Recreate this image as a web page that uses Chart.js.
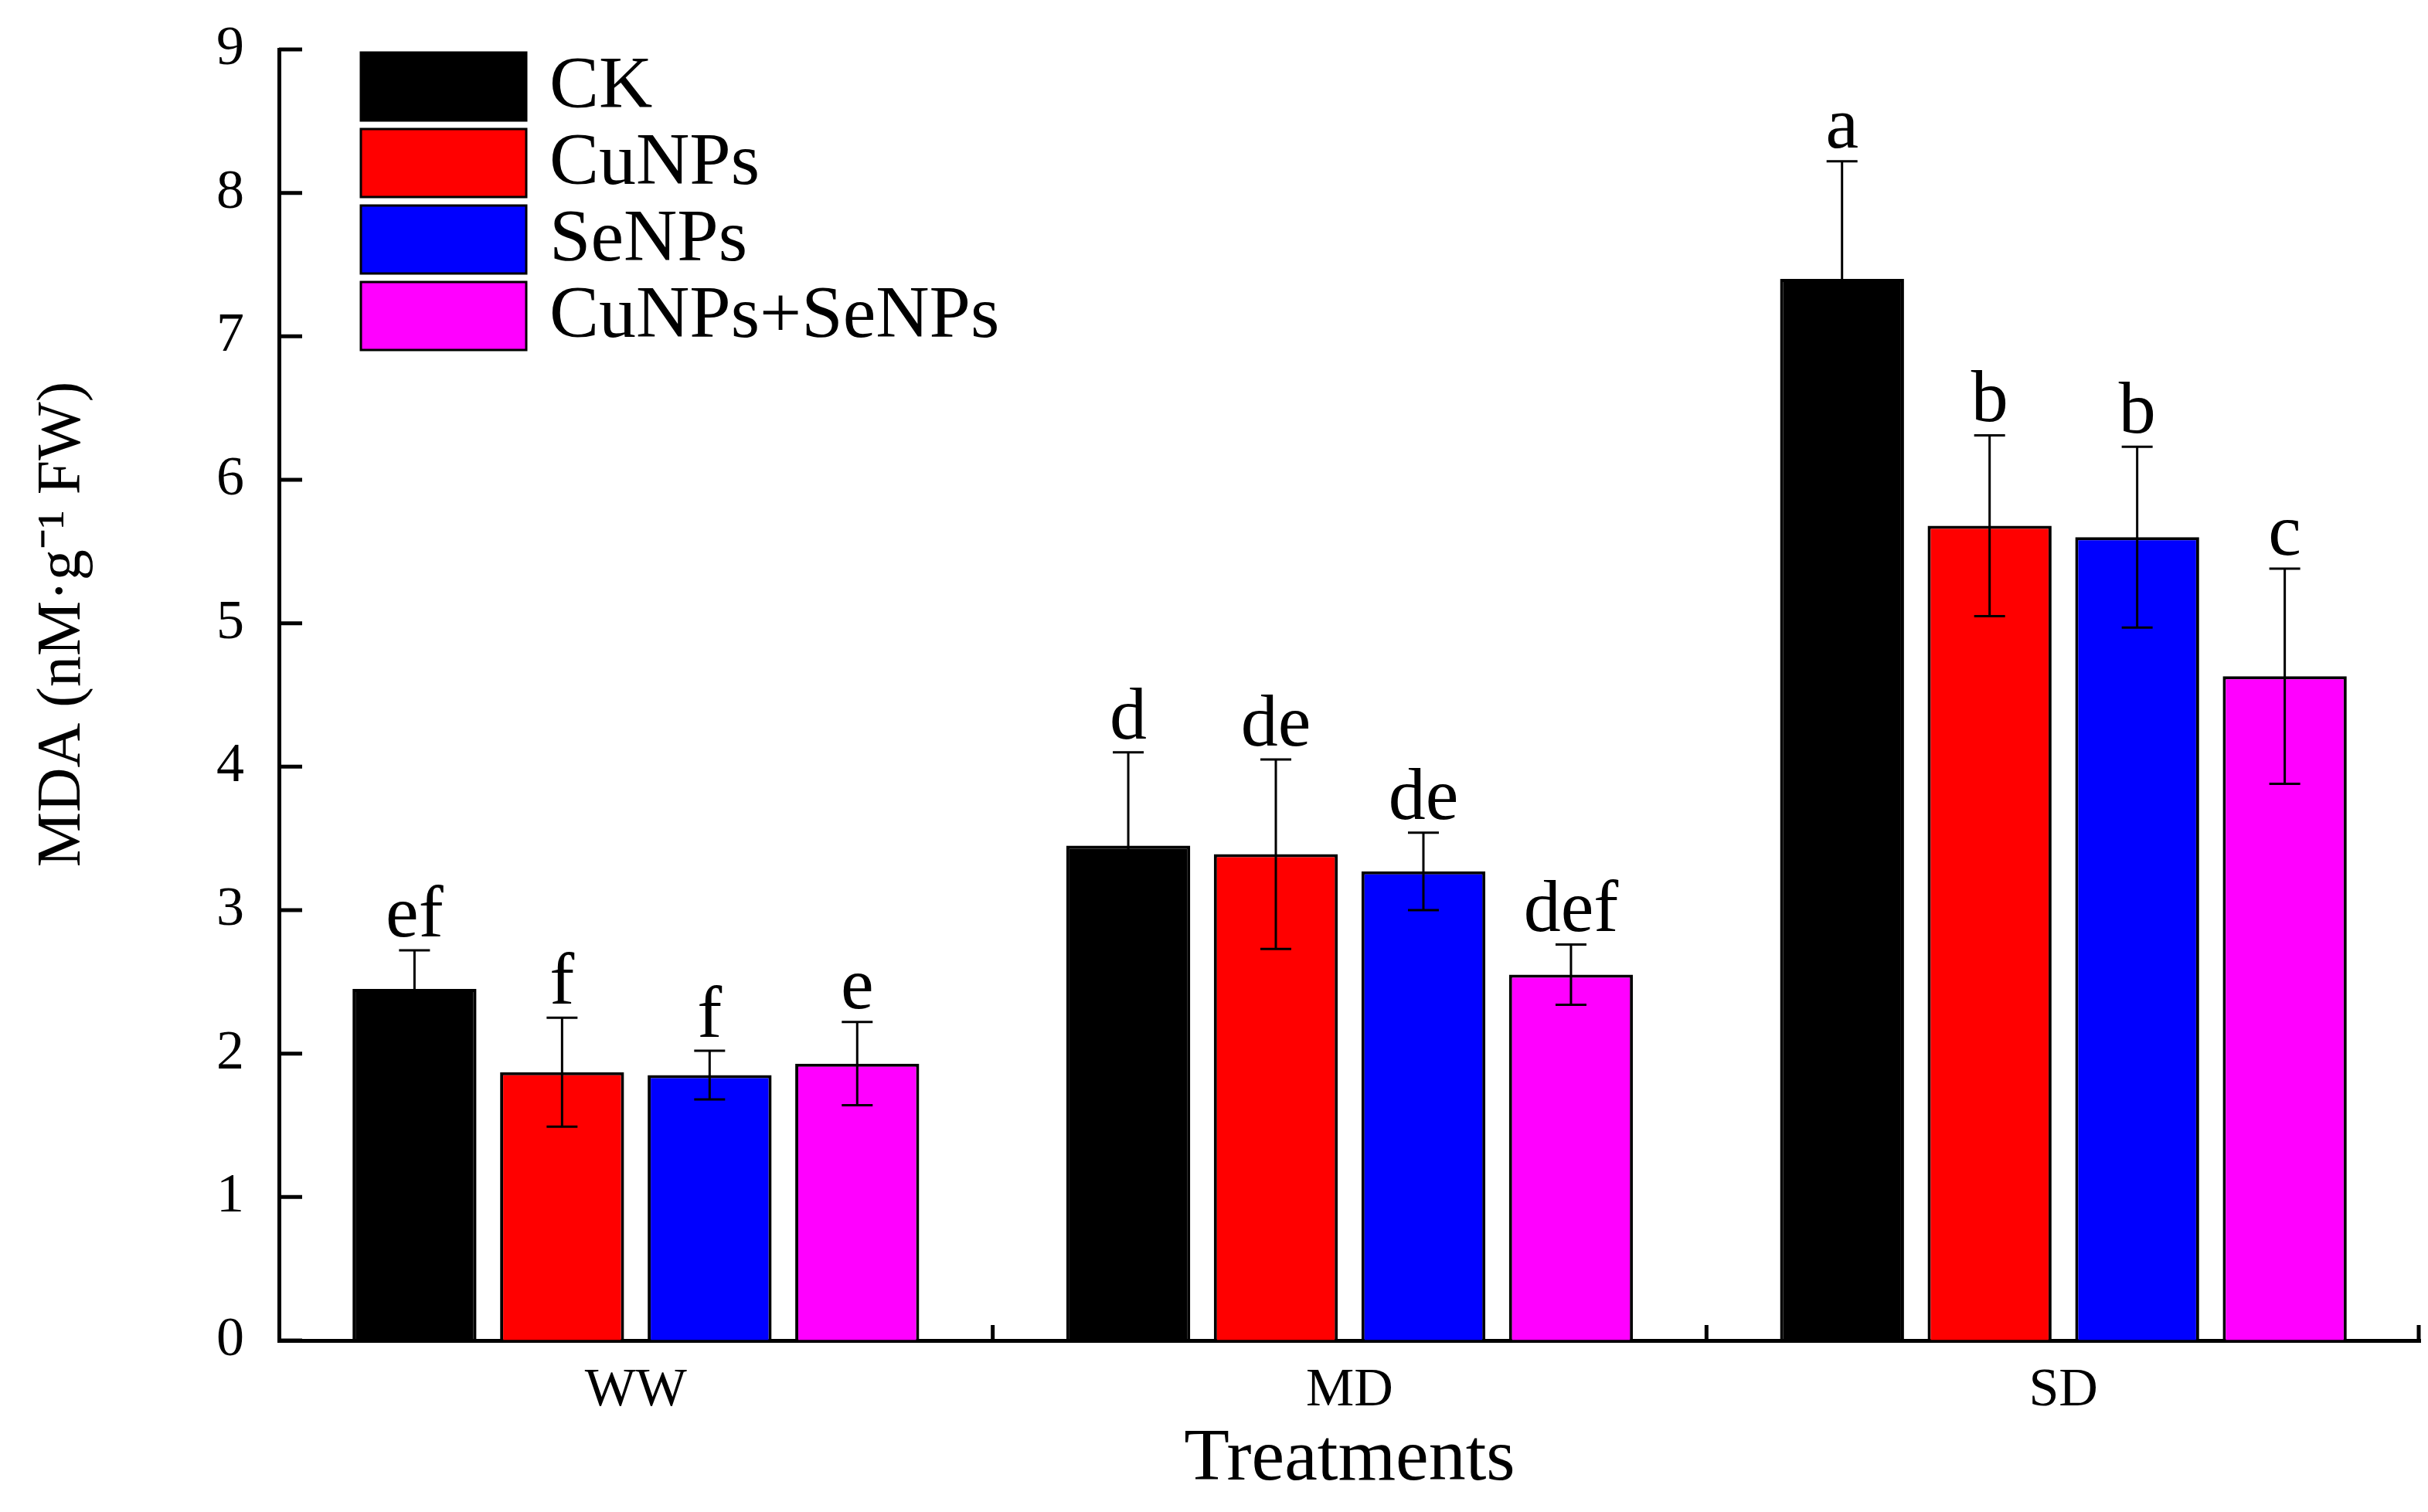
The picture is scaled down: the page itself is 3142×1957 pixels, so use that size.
<!DOCTYPE html>
<html>
<head>
<meta charset="utf-8">
<script src="https://cdn.jsdelivr.net/npm/chart.js@4/dist/chart.umd.min.js"></script>
<style>
  html, body { margin: 0; padding: 0; background: #fff; }
  #wrap { width: 3142px; height: 1957px; }
</style>
</head>
<body>
<div id="wrap"><canvas id="mdaChart"></canvas></div>
<script>
const categories = ['WW', 'MD', 'SD'];
const seriesNames = ['CK', 'CuNPs', 'SeNPs', 'CuNPs+SeNPs'];
const seriesColors = ['#000000', '#ff0000', '#0000ff', '#ff00ff'];

const ckMeans = [2.45, 3.45, 7.40];
const ckErrors = [0.27, 0.65, 0.82];
const ckLetters = ['ef', 'd', 'a'];

const cuMeans = [1.87, 3.39, 5.68];
const cuErrors = [0.38, 0.66, 0.63];
const cuLetters = ['f', 'de', 'b'];

const seMeans = [1.85, 3.27, 5.60];
const seErrors = [0.17, 0.27, 0.63];
const seLetters = ['f', 'de', 'b'];

const mixMeans = [1.93, 2.55, 4.63];
const mixErrors = [0.29, 0.21, 0.75];
const mixLetters = ['e', 'def', 'c'];

const yMin = 0, yMax = 9, yStep = 1;

const FONT = "'Liberation Serif', 'Times New Roman', serif";

const allMeans = [ckMeans, cuMeans, seMeans, mixMeans];
const allErrors = [ckErrors, cuErrors, seErrors, mixErrors];
const allLetters = [ckLetters, cuLetters, seLetters, mixLetters];

// error bars, letters, inward ticks, legend and y title
const extras = {
  id: 'extras',
  afterDatasetsDraw(chart) {
    const c = chart.ctx;
    const y = chart.scales.y;
    c.save();
    c.strokeStyle = '#000';
    c.fillStyle = '#000';
    chart.data.datasets.forEach((ds, di) => {
      const meta = chart.getDatasetMeta(di);
      meta.data.forEach((bar, i) => {
        const m = ds.data[i], e = ds.errors[i];
        const yt = y.getPixelForValue(m + e), yb = y.getPixelForValue(m - e);
        c.lineWidth = 3;
        c.beginPath();
        c.moveTo(bar.x, yt); c.lineTo(bar.x, yb);
        c.moveTo(bar.x - 20, yt); c.lineTo(bar.x + 20, yt);
        c.moveTo(bar.x - 20, yb); c.lineTo(bar.x + 20, yb);
        c.stroke();
        c.font = '96px ' + FONT;
        c.textAlign = 'center';
        c.textBaseline = 'alphabetic';
        c.fillText(ds.letters[i], bar.x, yt - 18);
      });
    });
    c.restore();
  },
  afterDraw(chart) {
    const c = chart.ctx;
    const {left, right, bottom} = chart.chartArea;
    const x = chart.scales.x, y = chart.scales.y;
    c.save();
    c.strokeStyle = '#000';
    c.lineWidth = 5;
    c.beginPath();
    for (let v = yMin; v <= yMax; v += yStep) {
      const py = y.getPixelForValue(v);
      c.moveTo(left, py); c.lineTo(left + 30, py);
    }
    for (let i = 0; i < categories.length; i++) {
      const px = i < categories.length - 1
        ? (x.getPixelForValue(i) + x.getPixelForValue(i + 1)) / 2
        : right - 2;
      c.moveTo(px, bottom); c.lineTo(px, bottom - 20);
    }
    c.stroke();

    // legend
    c.font = '96px ' + FONT;
    c.textAlign = 'left';
    c.textBaseline = 'middle';
    chart.data.datasets.forEach((ds, i) => {
      const top = 68 + i * 99;
      c.fillStyle = ds.backgroundColor;
      c.fillRect(467, top, 214, 88);
      c.lineWidth = 3;
      c.strokeRect(467, top, 214, 88);
      c.fillStyle = '#000';
      c.fillText(ds.label, 711, top + 46);
    });

    // y title
    c.translate(82, 808);
    c.rotate(-Math.PI / 2);
    c.textAlign = 'center';
    c.font = '80px ' + FONT;
    c.fillText('MDA (nM\u00b7g\u207b\u00b9 FW)', 0, 0);
    c.restore();
  }
};

new Chart(document.getElementById('mdaChart').getContext('2d'), {
  type: 'bar',
  data: {
    labels: categories,
    datasets: seriesNames.map((name, i) => ({
      label: name,
      data: allMeans[i],
      errors: allErrors[i],
      letters: allLetters[i],
      backgroundColor: seriesColors[i],
      borderColor: '#000',
      borderWidth: 4,
      categoryPercentage: 0.827,
      barPercentage: 0.84
    }))
  },
  options: {
    responsive: true,
    maintainAspectRatio: false,
    animation: false,
    devicePixelRatio: 1,
    layout: { padding: { top: 64, right: 10, left: 0, bottom: 0 } },
    plugins: {
      legend: { display: false },
      tooltip: { enabled: false }
    },
    scales: {
      x: {
        grid: { display: true, drawOnChartArea: false, drawTicks: false },
        border: { display: true, color: '#000', width: 5 },
        ticks: { color: '#000', font: { family: FONT, size: 70 }, padding: 24 },
        title: { display: true, text: 'Treatments', color: '#000', font: { family: FONT, size: 96 }, padding: { top: 0, bottom: 10 } },
        afterFit(s) { s.height = 222; s.paddingLeft = 0; s.paddingRight = 0; }
      },
      y: {
        min: yMin,
        max: yMax,
        grid: { display: true, drawOnChartArea: false, drawTicks: false },
        border: { display: true, color: '#000', width: 5 },
        ticks: { stepSize: yStep, color: '#000', font: { family: FONT, size: 72 }, padding: 45 },
        afterFit(s) { s.width = 361; s.paddingTop = 0; s.paddingBottom = 0; }
      }
    }
  },
  plugins: [extras]
});
</script>
</body>
</html>
